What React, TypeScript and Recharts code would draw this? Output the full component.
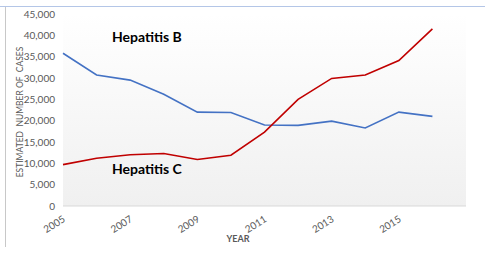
import { LineChart, Line, XAxis, YAxis, CartesianGrid } from 'recharts'

const years = [2005, 2006, 2007, 2008, 2009, 2010, 2011, 2012, 2013, 2014, 2015, 2016]
const hepatitisB = [35800, 30700, 29500, 26200, 22000, 21900, 19000, 18900, 19900, 18300, 22000, 21000]
const hepatitisC = [9700, 11200, 12000, 12300, 10900, 11900, 17300, 25000, 29900, 30700, 34100, 41500]
const yTicks = [0, 5000, 10000, 15000, 20000, 25000, 30000, 35000, 40000, 45000]
const xTicks = [2005, 2007, 2009, 2011, 2013, 2015]

const data = years.map((year, i) => ({ year, b: hepatitisB[i], c: hepatitisC[i] }))

const FONT = 'Lato, "Open Sans", sans-serif'
const GREY = '#595959'

function YearTick({ x, y, payload }: any) {
  return (
    <text x={x + 3} y={y + 7} transform={`rotate(-32, ${x + 3}, ${y + 7})`} textAnchor="end"
      fill={GREY} fontSize={10} fontFamily={FONT}>
      {payload.value}
    </text>
  )
}

export default function App() {
  return (
    <div style={{ position: 'fixed', left: 0, top: 0, width: 485, height: 258, background: '#fff', fontFamily: FONT }}>
      <div style={{ position: 'absolute', left: 0, top: 6, width: 485, height: 1, background: '#b4c6e7' }} />
      <div style={{ position: 'absolute', left: 5, top: 7, width: 1, height: 240, background: '#c8c8c8' }} />
      <LineChart width={485} height={258} data={data} margin={{ top: 14, right: 19, bottom: 0, left: 0 }}>
        <defs>
          <linearGradient id="plotBg" x1="0" y1="0" x2="0" y2="1">
            <stop offset="0%" stopColor="#ffffff" />
            <stop offset="100%" stopColor="#f0f0f0" />
          </linearGradient>
        </defs>
        <CartesianGrid horizontal={false} vertical={false} fill="url(#plotBg)" />
        <XAxis dataKey="year" type="number" domain={[2005, 2017]} ticks={xTicks} height={52}
          axisLine={{ stroke: '#d9d9d9' }} tickLine={false} tick={<YearTick />} interval={0} />
        <YAxis domain={[0, 45000]} ticks={yTicks} width={63} axisLine={false} tickLine={false}
          tick={{ fill: GREY, fontSize: 10, fontFamily: FONT }}
          tickFormatter={(v: number) => v.toLocaleString('en-US')} />
        <Line dataKey="b" stroke="#4472c4" strokeWidth={1.6} dot={false} isAnimationActive={false} />
        <Line dataKey="c" stroke="#c00000" strokeWidth={1.6} dot={false} isAnimationActive={false} />
      </LineChart>
      <div style={{ position: 'absolute', left: 20, top: 112, transform: 'translate(-50%, -50%) rotate(-90deg)',
        whiteSpace: 'nowrap', fontSize: 8.5, color: GREY }}>
        ESTIMATED&nbsp; NUMBER OF&nbsp; CASES
      </div>
      <div style={{ position: 'absolute', left: 238, top: 238, transform: 'translate(-50%, -50%)', fontSize: 9, color: GREY, fontWeight: 700 }}>
        YEAR
      </div>
      <div style={{ position: 'absolute', left: 112, top: 28, fontSize: 14, fontWeight: 700, color: '#000' }}>Hepatitis B</div>
      <div style={{ position: 'absolute', left: 112, top: 160, fontSize: 14, fontWeight: 700, color: '#000' }}>Hepatitis C</div>
    </div>
  )
}
